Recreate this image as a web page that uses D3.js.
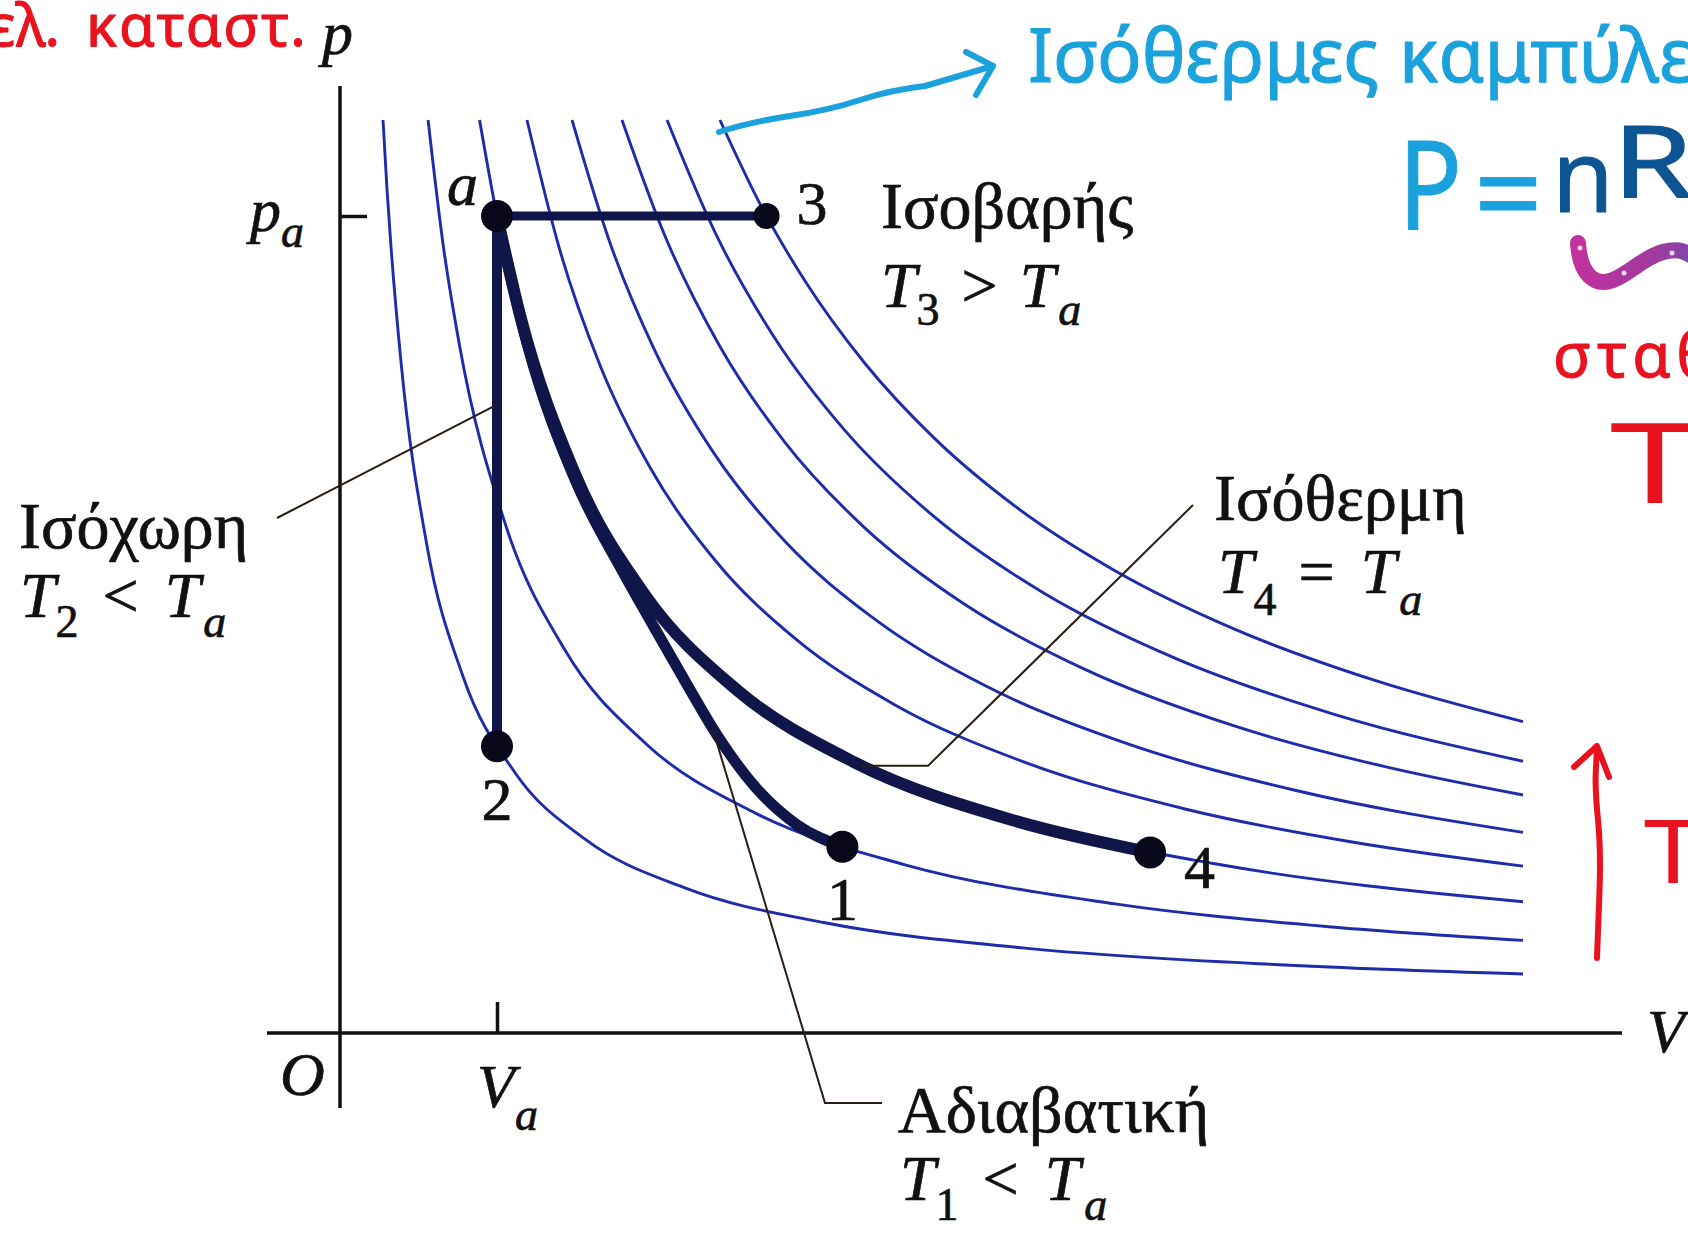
<!DOCTYPE html>
<html>
<head>
<meta charset="utf-8">
<script src="https://cdn.jsdelivr.net/npm/d3@7"></script>
<style>
  html, body { margin: 0; background: #ffffff; }
  svg { display: block; }
  text { white-space: pre; }
</style>
</head>
<body>
<svg id="chart" width="1688" height="1233"></svg>
<script>
// ---- Isotherms p(V), volume in units of Va, pressure in units of pa ----
const isothermV = [
  [0.274, 0.299, 0.325, 0.389, 0.554, 0.783, 1.115, 1.561, 2.197, 3.089, 4.363, 6.019, 7.535],
  [0.561, 0.656, 0.764, 1.051, 1.433, 1.943, 2.643, 3.599, 4.936, 6.338, 7.535],
  [0.889, 1.000, 1.146, 1.497, 1.943, 2.516, 3.280, 4.299, 5.573, 7.535],
  [1.191, 1.401, 1.656, 1.975, 2.389, 2.898, 3.535, 4.363, 5.382, 6.465, 7.535],
  [1.478, 1.720, 2.006, 2.389, 2.834, 3.408, 4.108, 5.000, 6.083, 7.535],
  [1.796, 2.070, 2.420, 2.834, 3.344, 3.981, 4.745, 5.701, 6.656, 7.535],
  [2.083, 2.389, 2.771, 3.217, 3.790, 4.490, 5.318, 6.338, 7.535],
  [2.420, 2.675, 2.962, 3.344, 3.790, 4.299, 4.936, 5.701, 6.592, 7.535]
];
const isothermP = [
  [1.1175, 1.0337, 0.962, 0.8204, 0.5965, 0.4367, 0.3186, 0.2373, 0.1776, 0.1349, 0.1039, 0.0832, 0.0722],
  [1.1175, 0.9662, 0.8387, 0.6241, 0.4687, 0.3550, 0.2694, 0.2059, 0.1580, 0.1295, 0.1134],
  [1.1175, 1.0000, 0.8792, 0.6842, 0.5360, 0.4218, 0.3310, 0.2597, 0.2071, 0.1607],
  [1.1175, 0.9578, 0.8174, 0.6922, 0.5786, 0.4829, 0.4016, 0.3313, 0.2742, 0.2332, 0.2042],
  [1.1175, 0.9670, 0.8350, 0.7076, 0.6018, 0.5062, 0.4253, 0.3550, 0.2971, 0.2455],
  [1.1175, 0.9755, 0.8403, 0.7229, 0.6180, 0.5244, 0.4450, 0.3755, 0.3260, 0.2913],
  [1.1175, 0.9799, 0.8501, 0.7373, 0.6310, 0.5376, 0.4588, 0.3898, 0.3326],
  [1.1175, 1.0149, 0.9204, 0.8195, 0.7272, 0.6449, 0.5659, 0.4941, 0.4315, 0.3811]
];

// ---- States of the gas ----
const stateNames = ["a", "1", "2", "3", "4"];
const stateV = [1, 3.2, 1, 2.717, 5.16];
const stateP = [1, 0.228, 0.351, 1, 0.221];

// ---- Adiabatic expansion a -> 1 ----
const adiabatV = [1, 1.2, 1.5, 1.8, 2.0, 2.2, 2.4, 2.65, 2.91, 3.2];
const adiabatP = [1, 0.838, 0.676, 0.565, 0.497, 0.43, 0.365, 0.3, 0.255, 0.228];

// ---- Axis ticks ----
const vTicks = [1];
const pTicks = [1];

// ---- Scales ----
const svg = d3.select("#chart");
const x = d3.scaleLinear().domain([0, 8]).range([340, 340 + 8 * 157]);
const y = d3.scaleLinear().domain([0, 1.2]).range([1033, 1033 - 1.2 * 817]);

const st = {};
stateNames.forEach((n, i) => st[n] = [stateV[i], stateP[i]]);

const serif = "'Liberation Serif', 'DejaVu Serif', serif";
const hand = "'Noto Sans', 'DejaVu Sans', sans-serif";
const ink = "#111111";

// ---- Axes ----
svg.append("line").attr("x1", 267).attr("x2", 1622)
  .attr("y1", y(0)).attr("y2", y(0))
  .attr("stroke", ink).attr("stroke-width", 3.5);
svg.append("line").attr("x1", x(0)).attr("x2", x(0))
  .attr("y1", 1108).attr("y2", 86)
  .attr("stroke", ink).attr("stroke-width", 3.5);

const gx = svg.append("g").attr("transform", `translate(0,${y(0)})`)
  .call(d3.axisBottom(x).tickValues(vTicks).tickSize(-31).tickFormat(""));
gx.select(".domain").remove();
gx.selectAll(".tick line").attr("stroke", ink).attr("stroke-width", 3.5);

const gy = svg.append("g").attr("transform", `translate(${x(0)},0)`)
  .call(d3.axisLeft(y).tickValues(pTicks).tickSize(-27).tickFormat(""));
gy.select(".domain").remove();
gy.selectAll(".tick line").attr("stroke", ink).attr("stroke-width", 3.5);

// ---- Isotherm family ----
const line = d3.line().x(d => x(d[0])).y(d => y(d[1])).curve(d3.curveMonotoneX);
const isotherms = isothermV.map((vs, i) => vs.map((v, j) => [v, isothermP[i][j]]));
svg.append("g").selectAll("path").data(isotherms).join("path")
  .attr("d", line)
  .attr("fill", "none")
  .attr("stroke", "#1d2cab")
  .attr("stroke-width", 2.9);

// ---- Processes starting at a ----
const proc = svg.append("g").attr("fill", "none").attr("stroke", "#10164a")
  .attr("stroke-linecap", "round").attr("stroke-linejoin", "round");
const straight = d3.line().x(d => x(d[0])).y(d => y(d[1]));

// isochoric a -> 2
proc.append("path").attr("d", straight([st.a, st["2"]])).attr("stroke-width", 10);
// isobaric a -> 3
proc.append("path").attr("d", straight([st.a, st["3"]])).attr("stroke-width", 9);
// isothermal a -> 4 along the third isotherm
const isoPath = isotherms[2].filter(d => d[0] >= st.a[0] && d[0] < st["4"][0]).concat([st["4"]]);
proc.append("path").attr("d", line(isoPath)).attr("stroke-width", 12);
// adiabatic a -> 1
const adiabat = adiabatV.map((v, i) => [v, adiabatP[i]]);
proc.append("path").attr("d", line(adiabat)).attr("stroke-width", 11);

// ---- State points ----
svg.append("g").selectAll("circle").data(stateNames).join("circle")
  .attr("cx", n => x(st[n][0]))
  .attr("cy", n => y(st[n][1]))
  .attr("r", n => n === "3" ? 13 : 16)
  .attr("fill", "#08081a");

// ---- Leader lines ----
const leader = svg.append("g").attr("fill", "none").attr("stroke", "#2a1c12").attr("stroke-width", 2);
const adiabatAt = 2.37;
const adiabatLeaderP = d3.scaleLinear().domain(adiabatV).range(adiabatP)(adiabatAt);
leader.append("polyline").attr("points", [[277, 518], [x(1), y(0.769)]].join(" "));
leader.append("polyline").attr("points", [[1193, 505], [928, y(0.327)], [x(3.318), y(0.327)]].join(" "));
leader.append("polyline").attr("points", [[x(adiabatAt), y(adiabatLeaderP)], [825, 1103], [882, 1103]].join(" "));

// ---- Text helpers ----
function label(px, py, parts, size = 64, anchor = "start") {
  const t = svg.append("text").attr("x", px).attr("y", py)
    .attr("font-family", serif).attr("font-size", size)
    .attr("fill", ink).attr("stroke", ink).attr("stroke-width", 0.7)
    .attr("text-anchor", anchor);
  let shift = 0;
  parts.forEach(p => {
    const s = t.append("tspan").text(p.t);
    if (p.it) s.attr("font-style", "italic");
    const target = p.sub ? (p.drop || 20) : 0;
    if (target !== shift) { s.attr("dy", target - shift); shift = target; }
    if (p.sub) s.attr("font-size", p.size || 46);
    if (p.dx) s.attr("dx", p.dx);
  });
  return t;
}

// axis labels
label(322, 54, [{ t: "p", it: true }], 62);
label(1647, 1052, [{ t: "V", it: true }], 62);
label(280, 1095, [{ t: "O", it: true }], 62);
label(250, 231, [{ t: "p", it: true }, { t: "a", it: true, sub: true, drop: 16 }], 62);
label(477, 1107, [{ t: "V", it: true }, { t: "a", it: true, sub: true, drop: 23 }], 62);

// state labels
label(x(st.a[0]) - 50, y(st.a[1]) - 11, [{ t: "a", it: true }], 62);
label(x(st["1"][0]), y(st["1"][1]) + 73, [{ t: "1" }], 62, "middle");
label(x(st["2"][0]), y(st["2"][1]) + 74, [{ t: "2" }], 62, "middle");
label(x(st["3"][0]) + 30, y(st["3"][1]) + 8, [{ t: "3" }], 62);
label(x(st["4"][0]) + 34, y(st["4"][1]) + 36, [{ t: "4" }], 62);

// process descriptions
label(881, 228, [{ t: "Ισοβαρής" }], 66);
label(881, 307, [{ t: "T", it: true }, { t: "3", sub: true, drop: 18 }, { t: " > ", dx: 6 },
  { t: "T", it: true, dx: 6 }, { t: "a", it: true, sub: true, drop: 18, dx: 3 }]);

label(19, 548, [{ t: "Ισόχωρη" }], 66);
label(20, 617, [{ t: "T", it: true }, { t: "2", sub: true }, { t: " < ", dx: 8 },
  { t: "T", it: true, dx: 10 }, { t: "a", it: true, sub: true, dx: 3 }]);

label(1214, 520, [{ t: "Ισόθερμη" }], 66);
label(1218, 593, [{ t: "T", it: true }, { t: "4", sub: true, drop: 22 }, { t: " = ", dx: 6 },
  { t: "T", it: true, dx: 10 }, { t: "a", it: true, sub: true, drop: 22, dx: 3 }]);

label(898, 1132, [{ t: "Αδιαβατική" }], 66);
label(900, 1200, [{ t: "T", it: true }, { t: "1", sub: true, drop: 20 }, { t: " < ", dx: 8 },
  { t: "T", it: true, dx: 10 }, { t: "a", it: true, sub: true, dx: 4 }]);

// ---- Handwritten notes ----
const red = "#e8131f", cyan = "#1ba1dc", navy = "#0c5592";
function note(px, py, txt, size, color, anchor = "start", extra = {}) {
  const t = svg.append("text").attr("x", px).attr("y", py).text(txt)
    .attr("font-family", hand).attr("font-size", size)
    .attr("fill", color).attr("stroke", color).attr("stroke-width", 1)
    .attr("stroke-linejoin", "round").attr("text-anchor", anchor);
  Object.entries(extra).forEach(([k, v]) => t.attr(k, v));
  return t;
}
note(60, 46, "Τελ.", 58, red, "end");
note(86, 46, "καταστ.", 58, red, "start", { "letter-spacing": 2 });

note(1028, 82, "Ισόθερμες", 74, cyan);
note(1399, 82, "καμπύλες", 74, cyan);
note(0, 0, "P", 125, cyan, "start", { transform: "translate(1398,230) scale(0.85,1)" });
note(1474, 236, "=", 120, cyan);
note(1552, 212, "n", 100, navy);
note(0, 0, "R", 100, navy, "start", { transform: "translate(1612,198) scale(1.3,1)" });
note(1553, 377, "σταθερό", 62, red, "start", { "letter-spacing": 6 });
note(0, 0, "T", 112, red, "middle", { transform: "translate(1655,503) scale(1.45,1)", "stroke-width": 0 });
note(0, 0, "T", 88, red, "middle", { transform: "translate(1673,883) scale(1.2,1)", "stroke-width": 0 });

// pointer from the note to the isotherms
const pen = svg.append("g").attr("fill", "none").attr("stroke-linecap", "round").attr("stroke-linejoin", "round");
pen.append("path").attr("d", "M719,132 Q750,122 790,116 T860,100 T925,86 L993,66")
  .attr("stroke", cyan).attr("stroke-width", 6);
pen.append("path").attr("d", "M966,52 L993,66 L976,95")
  .attr("stroke", cyan).attr("stroke-width", 6);

// rising temperature arrow
pen.append("path").attr("d", "M1597,958 C1599,900 1602,860 1598,820 S1596,770 1597,748")
  .attr("stroke", red).attr("stroke-width", 6);
pen.append("path").attr("d", "M1574,767 L1597,746 L1609,777")
  .attr("stroke", red).attr("stroke-width", 6);

// glitter underline
const grad = svg.append("defs").append("linearGradient").attr("id", "glitter")
  .attr("x1", "0%").attr("x2", "100%");
grad.append("stop").attr("offset", "0%").attr("stop-color", "#c0329c");
grad.append("stop").attr("offset", "60%").attr("stop-color", "#a03a9e");
grad.append("stop").attr("offset", "100%").attr("stop-color", "#7d48b0");
pen.append("path").attr("d", "M1578,243 C1580,275 1595,287 1613,280 S1642,258 1663,252 S1690,256 1702,262")
  .attr("stroke", "url(#glitter)").attr("stroke-width", 16);
svg.append("g").selectAll("circle").data([[1580, 248], [1624, 273], [1672, 253]]).join("circle")
  .attr("cx", d => d[0]).attr("cy", d => d[1]).attr("r", 2.5)
  .attr("fill", "#ffffff").attr("opacity", 0.8);
</script>
</body>
</html>
